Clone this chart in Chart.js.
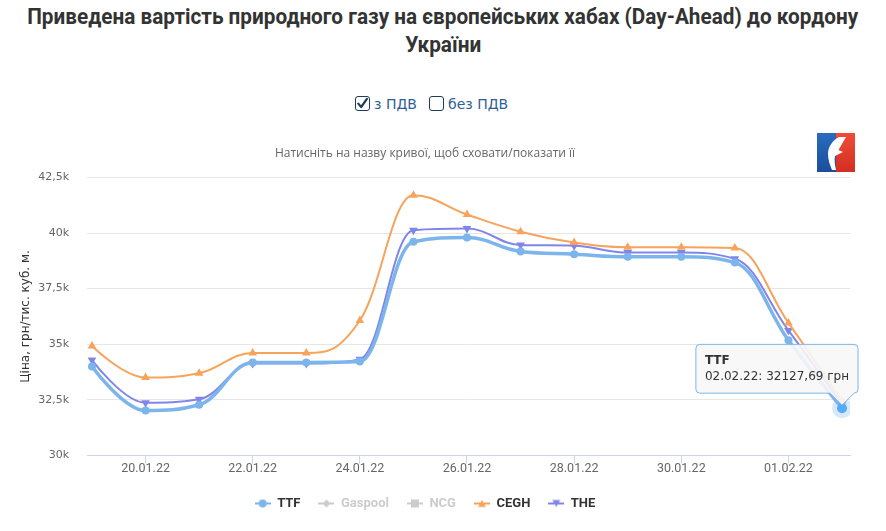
<!DOCTYPE html>
<html lang="uk">
<head>
<meta charset="utf-8">
<title>Приведена вартість природного газу</title>
<script src="https://cdn.jsdelivr.net/npm/chart.js@4.4.1/dist/chart.umd.min.js"></script>
<style>
html, body { margin: 0; padding: 0; background: #fff; }
body { width: 886px; height: 531px; position: relative; overflow: hidden; font-family: "DejaVu Sans", sans-serif; }
#title { position: absolute; left: 0; top: 3px; width: 886px; color: #333; font: bold 22px/28px Roboto, sans-serif; }
#title div { text-align: center; white-space: nowrap; }
#title span { display: inline-block; transform-origin: 50% 50%; }
.vat { position: absolute; top: 95px; font-size: 14px; line-height: 18px; color: #2f5f96; }
.box { position: absolute; top: 96px; width: 13px; height: 13px; border: 1.5px solid #1e3d5c; border-radius: 3px; }
.box svg { position: absolute; left: 0; top: 0; }
#wrap { position: absolute; left: 0; top: 130px; width: 886px; height: 401px; }
#logo { position: absolute; left: 817px; top: 133px; width: 38px; height: 39px; }
</style>
</head>
<body>
<div id="title">
    <div><span data-w="831">Приведена вартість природного газу на європейських хабах (Day-Ahead) до кордону</span></div>
    <div><span data-w="76">України</span></div>
</div>
<span class="box" style="left:355px"><svg width="13" height="13" viewBox="0 0 13 13"><path d="M2.3 6.6 L5.2 10 L10.9 1.8" fill="none" stroke="#1e3d5c" stroke-width="2.2" stroke-linecap="round" stroke-linejoin="round"/></svg></span>
<span class="vat" style="left:374px">з ПДВ</span>
<span class="box" style="left:429px"></span>
<span class="vat" style="left:448px">без ПДВ</span>
<div id="wrap"><canvas id="chartLine" width="886" height="401"></canvas></div>
<svg id="logo" viewBox="0 0 38 39">
    <defs>
        <linearGradient id="lb" x1="0" y1="0" x2="0" y2="1"><stop offset="0" stop-color="#2a6bc0"/><stop offset="1" stop-color="#1a4e9b"/></linearGradient>
        <linearGradient id="lr" x1="0" y1="0" x2="0" y2="1"><stop offset="0" stop-color="#f04c36"/><stop offset="1" stop-color="#d22f25"/></linearGradient>
    </defs>
    <rect x="0" y="0" width="19" height="39" fill="url(#lb)"/>
    <rect x="19" y="0" width="19" height="39" fill="url(#lr)"/>
    <path d="M22 4 C15 8 11 14 11 21 C11 27 13 32 15 37 L19 37 C18 32 17 27 18 23 L26 19 L21.5 17 L29 4 Z" fill="#fff"/>
</svg>
<script>
// labels and data
const dates = ['19.01.22', '20.01.22', '21.01.22', '22.01.22', '23.01.22', '24.01.22', '25.01.22', '26.01.22',
    '27.01.22', '28.01.22', '29.01.22', '30.01.22', '31.01.22', '01.02.22', '02.02.22']
const tickIdx = [1, 3, 5, 7, 9, 11, 13]
const yTicks = [30000, 32500, 35000, 37500, 40000, 42500]

const ttf     = [34000, 32020, 32280, 34180, 34180, 34220, 39610, 39800, 39170, 39050, 38930, 38930, 38670, 35180, 32127.69]
const gaspool = []
const ncg     = []
const cegh    = [34920, 33510, 33700, 34610, 34610, 36070, 41700, 40830, 40060, 39570, 39360, 39360, 39330, 35960, 32450]
const the     = [34290, 32370, 32530, 34130, 34130, 34330, 40130, 40200, 39460, 39430, 39120, 39120, 38840, 35620, 32320]

const narrow = "Roboto, sans-serif"
const plain = "'DejaVu Sans', sans-serif"

const series = [
    { label: 'TTF', values: ttf, color: '#7cb5ec', symbol: 'circle', rot: 0, hidden: false },
    { label: 'Gaspool', values: gaspool, color: '#434348', symbol: 'rectRot', rot: 0, hidden: true },
    { label: 'NCG', values: ncg, color: '#90ed7d', symbol: 'rect', rot: 0, hidden: true },
    { label: 'CEGH', values: cegh, color: '#f7a35c', symbol: 'triangle', rot: 0, hidden: false },
    { label: 'THE', values: the, color: '#8085e9', symbol: 'triangle', rot: 180, hidden: false }
]

// fit the title lines to the width they have in the picture (no narrow font here)
document.querySelectorAll('#title span').forEach(sp => {
    const w = sp.getBoundingClientRect().width
    sp.style.transform = 'scaleX(' + (sp.dataset.w / w) + ')'
})

// legend symbol: short line with the marker in the middle
function legendIcon(symbol, rot, color) {
    const c = document.createElement('canvas')
    c.width = 16
    c.height = 10
    const x = c.getContext('2d')
    x.strokeStyle = color
    x.lineWidth = 2
    x.beginPath(); x.moveTo(0, 5); x.lineTo(16, 5); x.stroke()
    x.fillStyle = color
    x.beginPath()
    if (symbol === 'circle') x.arc(8, 5, 4, 0, Math.PI * 2)
    else if (symbol === 'rect') x.rect(4, 1, 8, 8)
    else if (symbol === 'rectRot') { x.moveTo(8, 1); x.lineTo(12, 5); x.lineTo(8, 9); x.lineTo(4, 5) }
    else if (rot === 180) { x.moveTo(4, 1.5); x.lineTo(12, 1.5); x.lineTo(8, 8.5) }
    else { x.moveTo(8, 1.5); x.lineTo(12, 8.5); x.lineTo(4, 8.5) }
    x.closePath()
    x.fill()
    return c
}

// spline like the original (smoothing 1.5, control points kept between neighbours)
const splinePlugin = {
    id: 'splinePlugin',
    afterDatasetsUpdate(ch) {
        ch.data.datasets.forEach((d, i) => {
            const meta = ch.getDatasetMeta(i)
            if (!meta.dataset || !ch.isDatasetVisible(i) || !meta.data.length) return
            meta.dataset.updateControlPoints(ch.chartArea, 'x')
            const pts = meta.data
            const sm = 1.5, den = sm + 1
            pts.forEach((p, j) => {
                const prev = pts[j - 1], next = pts[j + 1]
                if (!prev || !next) { p.cp1x = p.cp2x = p.x; p.cp1y = p.cp2y = p.y; return }
                let lx = (sm * p.x + prev.x) / den, ly = (sm * p.y + prev.y) / den
                let rx = (sm * p.x + next.x) / den, ry = (sm * p.y + next.y) / den
                let corr = 0
                if (rx !== lx) corr = (ry - ly) * (rx - p.x) / (rx - lx) + p.y - ry
                ly += corr
                ry += corr
                if (ly > prev.y && ly > p.y) { ly = Math.max(prev.y, p.y); ry = 2 * p.y - ly }
                else if (ly < prev.y && ly < p.y) { ly = Math.min(prev.y, p.y); ry = 2 * p.y - ly }
                if (ry > next.y && ry > p.y) { ry = Math.max(next.y, p.y); ly = 2 * p.y - ry }
                else if (ry < next.y && ry < p.y) { ry = Math.min(next.y, p.y); ly = 2 * p.y - ry }
                p.cp1x = lx; p.cp1y = ly; p.cp2x = rx; p.cp2y = ry
            })
        })
    }
}

const datasets = series.map((s, i) => ({
    label: s.label,
    data: s.values.map((v, j) => ({ x: j, y: v })),
    borderColor: s.color,
    backgroundColor: s.color,
    borderWidth: i === 0 ? 3.5 : 2,
    tension: 0.4,
    pointStyle: s.symbol,
    rotation: s.rot,
    pointRadius: s.symbol === 'triangle' ? 5 : 4,
    pointBorderWidth: 0,
    pointHoverRadius: s.symbol === 'triangle' ? 6 : 5,
    pointHoverBorderWidth: i === 0 ? 10 : 0,
    pointHoverBorderColor: 'rgba(124,181,236,0.3)',
    hidden: s.hidden
}))

const chart = new Chart(document.getElementById('chartLine'), {
    type: 'line',
    data: { datasets },
    plugins: [splinePlugin],
    options: {
        responsive: false,
        animation: false,
        layout: { padding: { left: 0, right: 36, top: 0, bottom: 11 } },
        plugins: {
            title: {
                display: true,
                text: 'Натисніть на назву кривої, щоб сховати/показати її',
                color: '#666',
                font: { family: "'Open Sans', sans-serif", size: 12, weight: 'normal' },
                padding: { top: 16, bottom: 17 }
            },
            legend: {
                position: 'bottom',
                labels: {
                    usePointStyle: true,
                    pointStyleWidth: 16,
                    padding: 18,
                    font: { family: narrow, size: 13, weight: 'bold' },
                    color: '#333',
                    generateLabels: ch => ch.data.datasets.map((d, i) => {
                        const visible = ch.isDatasetVisible(i)
                        const col = visible ? series[i].color : '#ccc'
                        return {
                            text: d.label,
                            fillStyle: col,
                            strokeStyle: col,
                            pointStyle: legendIcon(series[i].symbol, series[i].rot, col),
                            fontColor: visible ? '#333' : '#ccc',
                            hidden: false,
                            lineWidth: 0,
                            datasetIndex: i
                        }
                    })
                },
                onClick: (e, item, legend) => {
                    const ch = legend.chart
                    const i = item.datasetIndex
                    if (ch.isDatasetVisible(i)) ch.hide(i)
                    else ch.show(i)
                }
            },
            tooltip: {
                backgroundColor: 'rgba(247,247,247,0.9)',
                borderColor: '#7cb5ec',
                borderWidth: 1,
                titleColor: '#333',
                bodyColor: '#333',
                titleFont: { family: plain, size: 12, weight: 'bold' },
                bodyFont: { family: plain, size: 12 },
                titleMarginBottom: 2,
                padding: 9,
                cornerRadius: 4,
                caretSize: 12,
                caretPadding: 3,
                displayColors: false,
                xAlign: 'right',
                yAlign: 'bottom',
                callbacks: {
                    title: items => items[0].dataset.label,
                    label: c => dates[c.dataIndex] + ': ' + c.parsed.y.toFixed(2).replace('.', ',') + ' грн'
                }
            }
        },
        scales: {
            x: {
                type: 'linear',
                min: -0.093,
                max: 14.149,
                afterFit: s => { s.height = 23.5 },
                afterBuildTicks: s => { s.ticks = tickIdx.map(v => ({ value: v })) },
                grid: { drawOnChartArea: false, drawTicks: true, tickLength: 8, color: '#ccd6eb' },
                border: { color: '#ccd6eb' },
                ticks: {
                    autoSkip: false,
                    maxRotation: 0,
                    padding: -2,
                    color: '#666',
                    font: { family: narrow, size: 12.5 },
                    callback: v => dates[v]
                }
            },
            y: {
                min: 30000,
                max: 42500,
                afterFit: s => { s.width = 87 },
                afterBuildTicks: s => { s.ticks = yTicks.map(v => ({ value: v })) },
                grid: { color: '#e6e6e6', drawTicks: false },
                border: { display: false },
                title: {
                    display: true,
                    text: 'Ціна, грн/тис. куб. м.',
                    color: '#333',
                    font: { family: plain, size: 12 },
                    padding: { top: 19, bottom: 0 }
                },
                ticks: {
                    padding: 18,
                    color: '#666',
                    font: { family: plain, size: 11 },
                    callback: v => (v / 1000).toString().replace('.', ',') + 'k'
                }
            }
        }
    }
})

// show the tooltip of the last TTF point, as in the picture
const active = [{ datasetIndex: 0, index: ttf.length - 1 }]
const pt = chart.getDatasetMeta(0).data[ttf.length - 1]
chart.setActiveElements(active)
chart.tooltip.setActiveElements(active, { x: pt.x, y: pt.y })
chart.render()
</script>
</body>
</html>
